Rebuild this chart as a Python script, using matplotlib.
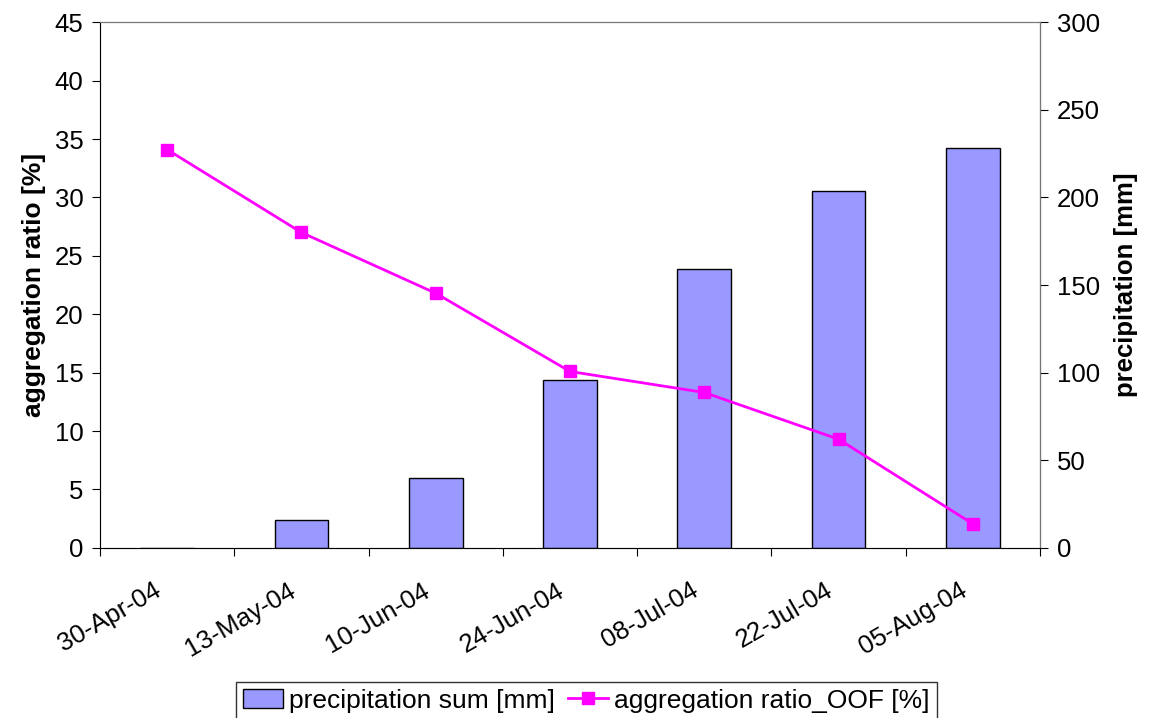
import numpy as np
import matplotlib.pyplot as plt
from matplotlib.transforms import ScaledTranslation

plt.rcParams['font.family'] = ['Liberation Sans', 'DejaVu Sans']

# dates of sampling
dates = ['30-Apr-04', '13-May-04', '10-Jun-04', '24-Jun-04',
         '08-Jul-04', '22-Jul-04', '05-Aug-04']
# precipitation sum [mm], right axis
precip = [0, 16, 40, 96, 159, 203.5, 228.5]
# aggregation ratio OOF [%], left axis
aggr = [34.1, 27.0, 21.8, 15.1, 13.3, 9.3, 2.05]

x = np.arange(len(dates))

fig = plt.figure(figsize=(11.5, 7.18), dpi=100)
ax = fig.add_axes([0.08696, 0.237, 0.8174, 0.732])
ax2 = ax.twinx()

# bars on the right axis, drawn underneath the line
bars = ax2.bar(x, precip, width=0.40, color='#9999FF', edgecolor='black', linewidth=1.0,
               label='precipitation sum [mm]')
line, = ax.plot(x, aggr, color='#FF00FF', lw=2, marker='s', markersize=9,
                label='aggregation ratio_OOF [%]')
ax.set_zorder(ax2.get_zorder() + 1)
ax.patch.set_visible(False)

ax.set_ylim(0, 45)
ax.set_yticks(np.arange(0, 46, 5))
ax2.set_ylim(0, 300)
ax2.set_yticks(np.arange(0, 301, 50))
ax.set_xlim(-0.5, len(dates) - 0.5)

# ticks at category boundaries, labels at centres
ax.set_xticks(np.arange(-0.5, len(dates), 1.0))
ax.set_xticklabels([])
ax.set_xticks(x, minor=True)
ax.set_xticklabels(dates, minor=True, rotation=30, ha='right', rotation_mode='anchor')
ax.tick_params(axis='x', which='minor', length=0, pad=22, labelsize=18.5)
ax.tick_params(axis='x', which='major', length=6, color='black')
ax.tick_params(axis='y', labelsize=18.5, length=6, pad=6)
ax2.tick_params(axis='y', labelsize=18.5, length=6, pad=6)
shift = ScaledTranslation(-14 / 100, 0, fig.dpi_scale_trans)
for lab in ax.get_xticklabels(minor=True):
    lab.set_transform(lab.get_transform() + shift)

for a in (ax, ax2):
    for s in a.spines.values():
        s.set_color('#777777')
ax.spines['left'].set_color('black')
ax.spines['bottom'].set_color('black')
ax2.spines['right'].set_color('black')

ax.set_ylabel('aggregation ratio [%]', fontsize=19, fontweight='bold', labelpad=6)
ax2.set_ylabel('precipitation [mm]', fontsize=18.5, fontweight='bold', labelpad=10)

leg = fig.legend([bars, line], ['precipitation sum [mm]', 'aggregation ratio_OOF [%]'],
                 loc='upper center', bbox_to_anchor=(0.51, 0.050), ncol=2,
                 fontsize=19, frameon=True, fancybox=False, edgecolor='black',
                 handlelength=1.5, handletextpad=0.25, columnspacing=0.5,
                 borderpad=0.25, borderaxespad=0)
leg.get_frame().set_linewidth(1.0)

fig.savefig('out.png', dpi=100)
